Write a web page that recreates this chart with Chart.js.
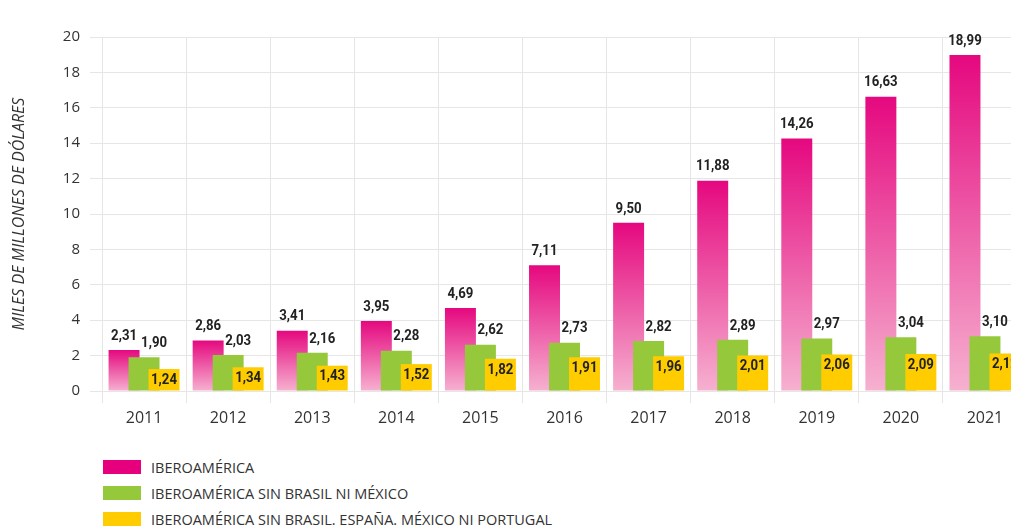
<!DOCTYPE html>
<html>
<head>
<meta charset="utf-8">
<script src="https://cdn.jsdelivr.net/npm/chart.js@4/dist/chart.umd.min.js"></script>
<style>
  body { margin: 0; background: #fff; overflow: hidden; width: 1011px; height: 526px; position: relative; }
  #myChart { position: absolute; left: 0; top: 0; }
  #legend { position: absolute; left: 103px; top: 454px; font-family: "Open Sans", sans-serif; font-size: 14.5px; color: #333; }
  #legend div { height: 26px; line-height: 17px; display: flex; align-items: center; }
  #legend span.box { display: inline-block; width: 38px; height: 14px; margin-right: 10px; }
</style>
</head>
<body>
<canvas id="myChart" width="1027" height="440"></canvas>
<div id="legend"></div>
<script>
const years = ["2011", "2012", "2013", "2014", "2015", "2016", "2017", "2018", "2019", "2020", "2021"];
const iberoamerica = [2.31, 2.86, 3.41, 3.95, 4.69, 7.11, 9.50, 11.88, 14.26, 16.63, 18.99];
const sinBrasilMexico = [1.90, 2.03, 2.16, 2.28, 2.62, 2.73, 2.82, 2.89, 2.97, 3.04, 3.10];
const sinBrasilEspanaMexicoPortugal = [1.24, 1.34, 1.43, 1.52, 1.82, 1.91, 1.96, 2.01, 2.06, 2.09, 2.12];
const yTicks = [0, 2, 4, 6, 8, 10, 12, 14, 16, 18, 20];

const seriesNames = [
  "IBEROAMÉRICA",
  "IBEROAMÉRICA SIN BRASIL NI MÉXICO",
  "IBEROAMÉRICA SIN BRASIL. ESPAÑA. MÉXICO NI PORTUGAL"
];
const colors = ["#e6007e", "#96c83c", "#ffcc00"];

const pinkGradient = c => {
  const chart = c.chart;
  const y = chart.scales.y;
  if (!chart.chartArea || !y || c.type !== 'data') return colors[0];
  const top = y.getPixelForValue(c.raw);
  const bottom = y.getPixelForValue(0);
  if (!isFinite(top) || !isFinite(bottom) || top === bottom) return colors[0];
  const g = chart.ctx.createLinearGradient(0, top, 0, bottom);
  g.addColorStop(0, "#e5087f");
  g.addColorStop(1, "#f6b1d0");
  return g;
};

const fmt = v => v.toFixed(2).replace('.', ',');

// draw datasets in data order (later ones on top) and put the value labels on
const overlapBars = {
  id: 'overlapBars',
  beforeDatasetDraw: () => false,
  afterDatasetsDraw(chart) {
    const ctx = chart.ctx;
    chart.data.datasets.forEach((d, i) => chart.getDatasetMeta(i).controller.draw());
    ctx.font = 'bold 15px Roboto, "DejaVu Sans Condensed", sans-serif';
    ctx.fillStyle = '#222';
    ctx.textAlign = 'center';
    ctx.textBaseline = 'middle';
    const put = (txt, x, y) => {
      ctx.save();
      ctx.translate(x, y);
      ctx.scale(0.88, 1);
      ctx.fillText(txt, 0, 0);
      ctx.restore();
    };
    chart.data.datasets.forEach((d, i) => {
      chart.getDatasetMeta(i).data.forEach((el, j) => {
        const txt = fmt(d.data[j]);
        if (i === 0) put(txt, el.x, el.y - 14);
        else if (i === 1) put(txt, el.x + 10, el.y - 14);
        else put(txt, el.x, el.y + 11);
      });
    });
  }
};

const ctx = document.getElementById("myChart").getContext("2d");
const myChart = new Chart(ctx, {
  type: "bar",
  data: {
    labels: years,
    datasets: [
      { label: seriesNames[0], data: iberoamerica, backgroundColor: pinkGradient },
      { label: seriesNames[1], data: sinBrasilMexico, backgroundColor: colors[1] },
      { label: seriesNames[2], data: sinBrasilEspanaMexicoPortugal, backgroundColor: colors[2] }
    ]
  },
  options: {
    responsive: false,
    animation: false,
    categoryPercentage: 0.713,
    barPercentage: 1.55,
    layout: { padding: { top: 37, right: 0, left: 0, bottom: 0 } },
    plugins: { legend: { display: false }, tooltip: { enabled: false } },
    scales: {
      x: {
        grid: { color: "#e6e6e6", tickLength: 12, offset: true },
        border: { color: "#e6e6e6" },
        ticks: { color: "#333", font: { family: "Open Sans", size: 16 }, padding: 6 },
        afterFit: s => { s.height = 49; }
      },
      y: {
        min: 0,
        max: 20,
        afterBuildTicks: s => { s.ticks = yTicks.map(v => ({ value: v })); },
        grid: { color: "#e6e6e6", tickLength: 12 },
        border: { color: "#e6e6e6" },
        ticks: { color: "#333", font: { family: "Open Sans", size: 15 }, padding: 10 },
        title: {
          display: true,
          text: "MILES DE MILLONES DE DÓLARES",
          color: "#333",
          font: { family: "Open Sans", size: 16, style: "italic" },
          padding: { top: 10, bottom: 0 }
        },
        afterFit: s => { s.width = 102; }
      }
    }
  },
  plugins: [overlapBars]
});

const legend = document.getElementById("legend");
seriesNames.forEach((name, i) => {
  const row = document.createElement("div");
  row.innerHTML = '<span class="box" style="background:' + colors[i] + '"></span>' + name;
  legend.appendChild(row);
});
</script>
</body>
</html>
